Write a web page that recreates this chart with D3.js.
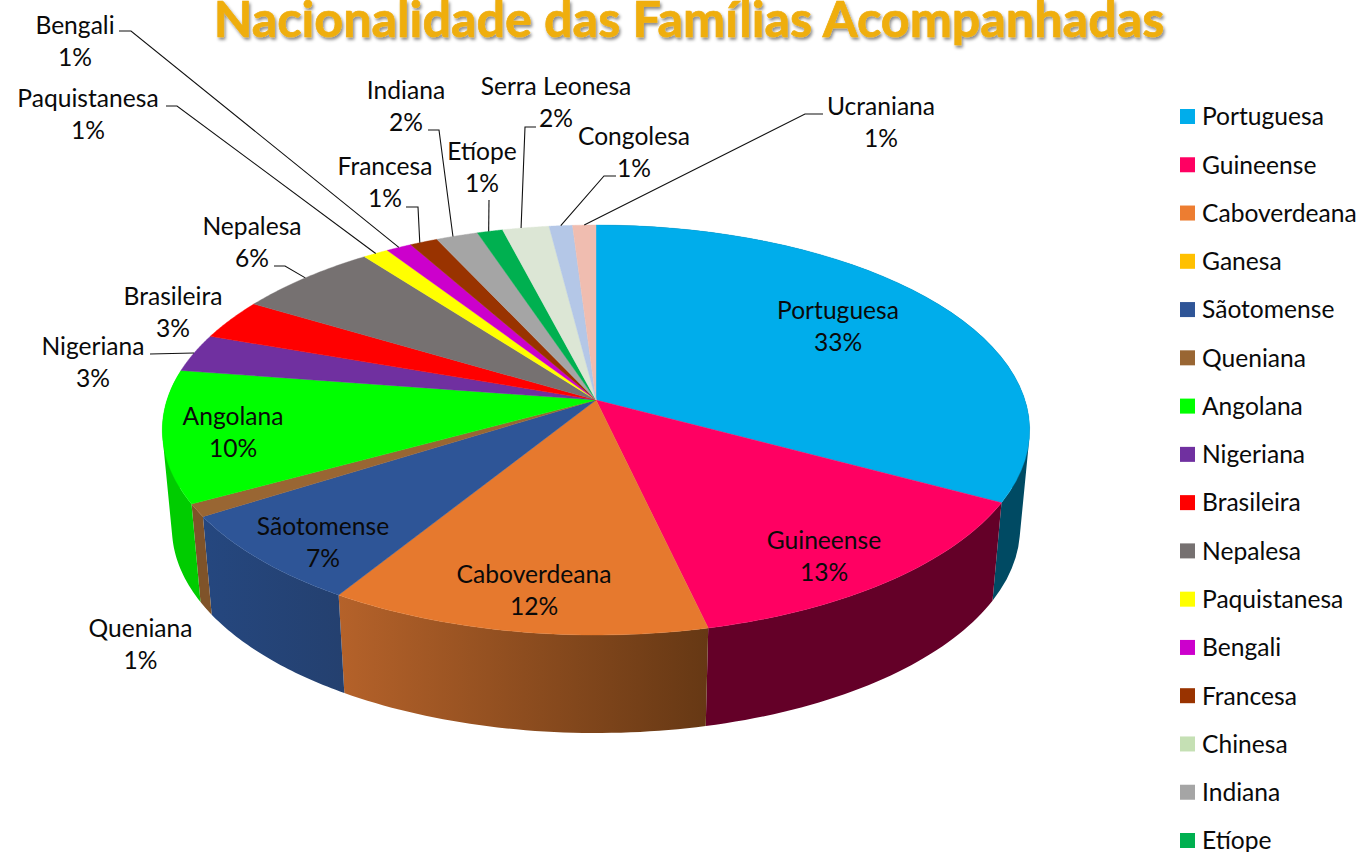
<!DOCTYPE html>
<html><head><meta charset="utf-8">
<script src="https://cdn.jsdelivr.net/npm/d3@7/dist/d3.min.js"></script>
<style>html,body{margin:0;padding:0;background:#fff;overflow:hidden}svg{display:block}text{font-family:Lato,"Open Sans",sans-serif;fill:#0a0a0a}</style>
</head><body><svg id="c" width="1361" height="852"></svg>
<script>
// Data
const pieNames = ["Portuguesa","Guineense","Caboverdeana","Ganesa","Sãotomense","Queniana","Angolana","Nigeriana","Brasileira","Nepalesa","Paquistanesa","Bengali","Francesa","Chinesa","Indiana","Etíope","Serra Leonesa","Congolesa","Ucraniana"];
const pieValues = [32.9,13.5,12.4,0,7.2,1.0,10.4,3.0,3.2,6.1,1.1,1.1,1.2,0,1.8,1.1,2.0,1.0,1.0];
const pctLabels = ["33%","13%","12%",null,"7%","1%","10%","3%","3%","6%","1%","1%","1%",null,"2%","1%","2%","1%","1%"];
const topColors = ["#00ADEB","#FF0062","#E6792E","#FFC000","#2E5597","#996633","#00FF00","#7030A0","#FF0000","#767171","#FFFF00","#CC00CC","#993300","#C5E0B4","#A5A5A5","#00B050","#DCE6D5","#B4C7E7","#F0BDB0"];
const legendNames = ["Portuguesa","Guineense","Caboverdeana","Ganesa","Sãotomense","Queniana","Angolana","Nigeriana","Brasileira","Nepalesa","Paquistanesa","Bengali","Francesa","Chinesa","Indiana","Etíope"];
const legendColors = ["#00ADEB","#FF0062","#ED7D31","#FFC000","#2F5597","#996633","#00FF00","#7030A0","#FF0000","#767171","#FFFF00","#CC00CC","#993300","#C5E0B4","#A5A5A5","#00B050"];
const wallColors = {
  "Portuguesa":["#004A63","#004A63"],"Guineense":["#640028","#640028"],
  "Caboverdeana":["#B5622A","#663814"],"Sãotomense":["#25477F","#24406F"],
  "Queniana":["#7F5329","#7F5329"],"Angolana":["#00CC00","#00CC00"]
};
const title = "Nacionalidade das Famílias Acompanhadas";

// label anchors (centre x, first-line baseline y)
const labelPos = {
 "Portuguesa":[838,318.7],"Guineense":[824,548.7],"Caboverdeana":[534,582.7],"Sãotomense":[323,534.7],"Queniana":[140.5,636.7],
 "Angolana":[233,424.7],"Nigeriana":[93,354.7],"Brasileira":[173,304.7],"Nepalesa":[252,234.7],"Paquistanesa":[88,106.7],
 "Bengali":[75,33.7],"Francesa":[385,174.7],"Indiana":[406,98.7],"Etíope":[482,159.7],"Serra Leonesa":[556,94.7],
 "Congolesa":[634,144.7],"Ucraniana":[881,114.7]
};
// leader: text-side start and elbow; the end sits on the slice rim
const leaders = {
 "Nepalesa":[[274,266],[285,266]],"Nigeriana":[[150,354],[150,354]],"Paquistanesa":[[166,106],[177,106]],
 "Bengali":[[119,31],[131,31]],"Francesa":[[406,207],[418,207]],"Indiana":[[428,130],[439,130]],
 "Etíope":[[489,200],[489,200]],"Serra Leonesa":[[536,127],[525,127]],"Congolesa":[[616,176],[604,176]],
 "Ucraniana":[[823,114],[805,114]]
};
const leaderAt = {"Nepalesa":0.5,"Nigeriana":0.5,"Paquistanesa":0.5,"Bengali":0.5,"Francesa":0.35,"Indiana":0.4,"Etíope":0.45,"Serra Leonesa":0.4,"Congolesa":0.5,"Ucraniana":0.5};

const svg = d3.select("#c");
const defs = svg.append("defs");
const P = 0.1464;
const topFace = {cx:596,cy:400,kx:429,ky:200.6};
const botFace = {cx:596,cy:498,kx:419.5,ky:200.6};
function project(f,a){ // a clockwise from 12 o'clock
  const x=Math.sin(a), y=-Math.cos(a), w=1-P*y;
  return [f.cx+f.kx*x/w, f.cy+f.ky*y/w];
}
const arcs = d3.pie().sort(null).value(d=>d)(pieValues).map((d,i)=>({...d,name:pieNames[i]}));
const line = d3.line();
const sample = (s,e,n=40)=>d3.range(0,n+1).map(i=>s+(e-s)*i/n);

// side walls: one path holding a sweep of thin, same-wound quads between the two rims
const wg = svg.append("g");
arcs.filter(d=>wallColors[d.name]).forEach((d,i)=>{
  const as=sample(d.startAngle,d.endAngle);
  const tp=as.map(a=>project(topFace,a)), bp=as.map(a=>project(botFace,a));
  const ext=d3.extent(tp.concat(bp),p=>p[0]), id="w"+i;
  const g=defs.append("linearGradient").attr("id",id).attr("gradientUnits","userSpaceOnUse")
    .attr("x1",ext[0]).attr("x2",ext[1]).attr("y1",0).attr("y2",0);
  g.append("stop").attr("offset",0).attr("stop-color",wallColors[d.name][0]);
  g.append("stop").attr("offset",1).attr("stop-color",wallColors[d.name][1]);
  const paths=d3.range(as.length-1).map(k=>{
    const q=[tp[k],tp[k+1],bp[k+1],bp[k]];
    if(d3.polygonArea(q)<0) q.reverse();
    return line(q)+"Z";
  }).join("");
  wg.append("path").attr("d",paths).attr("fill",`url(#${id})`).attr("fill-rule","nonzero");
});

// top face
const tg = svg.append("g");
arcs.forEach((d,i)=>{
  if(d.value===0) return;
  const pts=[[topFace.cx,topFace.cy]].concat(sample(d.startAngle,d.endAngle).map(a=>project(topFace,a)));
  tg.append("path").attr("d",line(pts)+"Z").attr("fill",topColors[i]).attr("stroke",topColors[i]).attr("stroke-width",0.4);
});

// leader lines
const lg = svg.append("g").attr("fill","none").attr("stroke","#111").attr("stroke-width",1.1);
arcs.forEach(d=>{
  const l=leaders[d.name]; if(!l) return;
  const a=d.startAngle+(d.endAngle-d.startAngle)*leaderAt[d.name];
  lg.append("path").attr("d",line([l[0],l[1],project(topFace,a)]));
});

// data labels
const FS=24.6;
arcs.forEach((d,i)=>{
  if(d.value===0) return;
  const p=labelPos[d.name];
  const t=svg.append("text").attr("text-anchor","middle").style("font-size",FS+"px");
  t.append("tspan").attr("x",p[0]).attr("y",p[1]).text(d.name);
  t.append("tspan").attr("x",p[0]).attr("y",p[1]+32.5).text(pctLabels[i]);
});

// legend
const yL=d3.scalePoint().domain(legendNames).range([116.5,840.5]);
const lgd=svg.append("g").selectAll("g").data(legendNames).join("g").attr("transform",d=>`translate(0,${yL(d)})`);
lgd.append("rect").attr("x",1180).attr("y",-7.5).attr("width",15).attr("height",15).attr("fill",(d,i)=>legendColors[i]);
lgd.append("text").attr("x",1202).attr("y",8.8).style("font-size",FS+"px").text(d=>d);

// title
const f=defs.append("filter").attr("id","sh").attr("x","-5%").attr("y","-20%").attr("width","110%").attr("height","150%");
f.append("feDropShadow").attr("dx",1.5).attr("dy",2.5).attr("stdDeviation",1.5).attr("flood-color","#000").attr("flood-opacity",0.45);
svg.append("text").attr("x",689).attr("y",37).attr("text-anchor","middle").attr("filter","url(#sh)")
  .style("font-size","50.3px").style("font-weight",700).style("fill","#EFAE0D").style("stroke","#EFAE0D").style("stroke-width",0.7).text(title);
</script></body></html>
